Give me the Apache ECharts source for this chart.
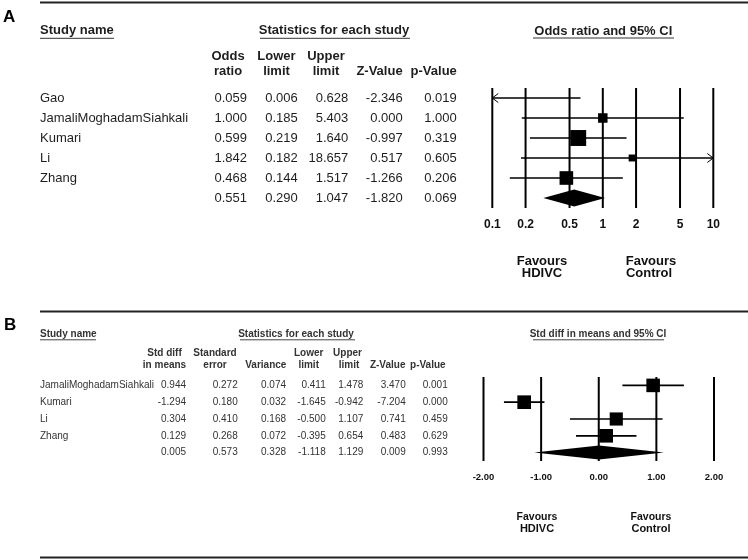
<!DOCTYPE html>
<html>
<head>
<meta charset="utf-8">
<script src="https://cdn.jsdelivr.net/npm/echarts@6/dist/echarts.min.js"></script>
<style>html,body{margin:0;padding:0;background:#fff}#c{width:748px;height:560px}</style>
</head>
<body>
<div id="c"></div>
<script>
// ---------- Panel A data (odds ratio) ----------
const studiesA = ['Gao', 'JamaliMoghadamSiahkali', 'Kumari', 'Li', 'Zhang'];
const orA = [0.059, 1.000, 0.599, 1.842, 0.468];
const lowerA = [0.006, 0.185, 0.219, 0.182, 0.144];
const upperA = [0.628, 5.403, 1.640, 18.657, 1.517];
const zA = [-2.346, 0.000, -0.997, 0.517, -1.266];
const pA = [0.019, 1.000, 0.319, 0.605, 0.206];
const weightA = [7.6, 14.4, 40.6, 7.7, 29.7];
const pooledA = [0.551, 0.290, 1.047, -1.820, 0.069];
const ticksA = [0.1, 0.2, 0.5, 1, 2, 5, 10];
const tickLabelsA = ['0.1', '0.2', '0.5', '1', '2', '5', '10'];

// ---------- Panel B data (std diff in means) ----------
const studiesB = ['JamaliMoghadamSiahkali', 'Kumari', 'Li', 'Zhang'];
const smdB = [0.944, -1.294, 0.304, 0.129];
const seB = [0.272, 0.180, 0.410, 0.268];
const varB = [0.074, 0.032, 0.168, 0.072];
const lowerB = [0.411, -1.645, -0.500, -0.395];
const upperB = [1.478, -0.942, 1.107, 0.654];
const zB = [3.470, -7.204, 0.741, 0.483];
const pB = [0.001, 0.000, 0.459, 0.629];
const weightB = [25.2, 25.6, 23.7, 25.3];
const pooledB = [0.005, 0.573, 0.328, -1.118, 1.129, 0.009, 0.993];
const ticksB = [-2, -1, 0, 1, 2];
const tickLabelsB = ['-2.00', '-1.00', '0.00', '1.00', '2.00'];

// ---------- styles ----------
const FF = '"Liberation Sans", Arial, sans-serif';
const colA = '#1e1e1e';
const colB = '#333';
const fmt = v => v.toFixed(3);

const chart = echarts.init(document.getElementById('c'), null, {renderer: 'canvas'});

function ciRender(xMin, xMax, sizeK, lw) {
  return function (params, api) {
    const est = api.value(0), row = api.value(1), lo = api.value(2), hi = api.value(3), w = api.value(4);
    const l = Math.max(lo, xMin), h = Math.min(hi, xMax);
    const p1 = api.coord([l, row]), p2 = api.coord([h, row]);
    const children = [{
      type: 'line', shape: {x1: p1[0], y1: p1[1], x2: p2[0], y2: p2[1]},
      style: {stroke: '#000', lineWidth: lw}
    }];
    if (lo < xMin) {
      children.push({type: 'polyline', shape: {points: [[p1[0] + 6, p1[1] - 4.5], [p1[0], p1[1]], [p1[0] + 6, p1[1] + 4.5]]},
        style: {stroke: '#000', lineWidth: 1, fill: null}});
    }
    if (hi > xMax) {
      children.push({type: 'polyline', shape: {points: [[p2[0] - 6, p2[1] - 4.5], [p2[0], p2[1]], [p2[0] - 6, p2[1] + 4.5]]},
        style: {stroke: '#000', lineWidth: 1, fill: null}});
    }
    if (est >= xMin && est <= xMax) {
      const c = api.coord([est, row]);
      const s = sizeK * Math.sqrt(w);
      children.push({type: 'rect', shape: {x: c[0] - s / 2, y: c[1] - s / 2, width: s, height: s}, style: {fill: '#000'}});
    }
    return {type: 'group', children};
  };
}

function diamondRender(halfH) {
  return function (params, api) {
    const est = api.value(0), row = api.value(1), lo = api.value(2), hi = api.value(3);
    const a = api.coord([lo, row]), b = api.coord([est, row]), c = api.coord([hi, row]);
    return {type: 'polygon', shape: {points: [[a[0], a[1]], [b[0], b[1] - halfH], [c[0], c[1]], [b[0], b[1] + halfH]]},
      style: {fill: '#000'}};
  };
}

function refRender(yTop, yBot, labels, labelDy, font, lw) {
  return function (params, api) {
    const t = api.value(0);
    const a = api.coord([t, yTop]), b = api.coord([t, yBot]);
    return {type: 'group', children: [
      {type: 'line', shape: {x1: a[0], y1: a[1], x2: b[0], y2: b[1]}, style: {stroke: '#000', lineWidth: lw}},
      {type: 'text', x: b[0], y: b[1] + labelDy, style: {text: labels[params.dataIndex], font, fill: '#111', align: 'center', verticalAlign: 'middle'}}
    ]};
  };
}

function tableRender(nameX, colXs, rowsText, font, fill) {
  return function (params, api) {
    const row = api.value(1);
    const y = api.coord([api.value(0), row])[1];
    const r = rowsText[params.dataIndex];
    const children = [];
    if (r.name) children.push({type: 'text', x: nameX, y, style: {text: r.name, font, fill, align: 'left', verticalAlign: 'middle'}});
    r.vals.forEach((v, j) => {
      children.push({type: 'text', x: colXs[j], y, style: {text: v, font, fill, align: 'right', verticalAlign: 'middle'}});
    });
    return {type: 'group', children};
  };
}

const rowsA = studiesA.map((n, i) => ({name: n, vals: [orA[i], lowerA[i], upperA[i], zA[i], pA[i]].map(fmt)}));
rowsA.push({name: '', vals: pooledA.map(fmt)});
const rowsB = studiesB.map((n, i) => ({name: n, vals: [smdB[i], seB[i], varB[i], lowerB[i], upperB[i], zB[i], pB[i]].map(fmt)}));
rowsB.push({name: '', vals: pooledB.map(fmt)});

function txt(x, y, text, font, fill, align) {
  return {type: 'text', x, y, silent: true, style: {text, font, fill: fill || colA, align: align || 'center', verticalAlign: 'middle'}};
}
function hline(x1, x2, y, lw, color) {
  return {type: 'line', silent: true, shape: {x1, y1: y, x2, y2: y}, style: {stroke: color || '#222', lineWidth: lw}};
}

const hA = 'bold 13px ' + FF;
const hB = 'bold 10px ' + FF;
const graphics = [
  // rules
  hline(40, 748, 2.5, 2, '#222'),
  hline(40, 748, 311.5, 2, '#222'),
  hline(40, 748, 557.5, 2, '#222'),
  // panel letters
  txt(3, 17.5, 'A', 'bold 17px ' + FF, '#000', 'left'),
  txt(4, 325, 'B', 'bold 17px ' + FF, '#000', 'left'),
  // panel A headers
  txt(40, 30.7, 'Study name', hA, colA, 'left'), hline(40, 114, 38.3, 1, '#333'),
  txt(334, 30.7, 'Statistics for each study', hA), hline(260, 410, 38.3, 1, '#333'),
  txt(603.3, 31.2, 'Odds ratio and 95% CI', hA), hline(533, 674, 38, 1, '#333'),
  txt(228, 56.7, 'Odds', hA), txt(228, 71.7, 'ratio', hA),
  txt(276.5, 56.7, 'Lower', hA), txt(276.5, 71.7, 'limit', hA),
  txt(326, 56.7, 'Upper', hA), txt(326, 71.7, 'limit', hA),
  txt(379.5, 71.7, 'Z-Value', hA), txt(433.7, 71.7, 'p-Value', hA),
  txt(542, 261.7, 'Favours', hA, '#111'), txt(542, 273.5, 'HDIVC', hA, '#111'),
  txt(651, 261.7, 'Favours', hA, '#111'), txt(649, 273.5, 'Control', hA, '#111'),
  // panel B headers
  txt(40, 334, 'Study name', hB, colB, 'left'), hline(40, 96, 339.8, 1, '#444'),
  txt(296, 334, 'Statistics for each study', hB, colB), hline(240, 355, 339.8, 1, '#444'),
  txt(598, 334, 'Std diff in means and 95% CI', hB, colB), hline(533, 664, 339.8, 1, '#444'),
  txt(164.5, 353.3, 'Std diff', hB, colB), txt(164.5, 365.3, 'in means', hB, colB),
  txt(215, 353.3, 'Standard', hB, colB), txt(215, 365.3, 'error', hB, colB),
  txt(265.8, 365.3, 'Variance', hB, colB),
  txt(308.7, 353.3, 'Lower', hB, colB), txt(308.7, 365.3, 'limit', hB, colB),
  txt(347.5, 353.3, 'Upper', hB, colB), txt(349, 365.3, 'limit', hB, colB),
  txt(387.7, 365.3, 'Z-Value', hB, colB), txt(427.8, 365.3, 'p-Value', hB, colB),
  txt(537, 517.3, 'Favours', 'bold 10.5px ' + FF, '#111'), txt(537, 528.7, 'HDIVC', 'bold 11px ' + FF, '#111'),
  txt(651, 517.3, 'Favours', 'bold 10.5px ' + FF, '#111'), txt(651, 528.7, 'Control', 'bold 11px ' + FF, '#111')
];

const option = {
  animation: false,
  backgroundColor: '#fff',
  grid: [
    {left: 492.3, top: 88, width: 221, height: 120},
    {left: 483.5, top: 377, width: 230.5, height: 84}
  ],
  xAxis: [
    {type: 'log', logBase: 10, min: 0.1, max: 10, gridIndex: 0, show: false},
    {type: 'value', min: -2, max: 2, gridIndex: 1, show: false}
  ],
  yAxis: [
    {type: 'value', min: -0.5, max: 5.5, inverse: true, gridIndex: 0, show: false},
    {type: 'value', min: -0.5, max: 4.5, inverse: true, gridIndex: 1, show: false}
  ],
  graphic: graphics,
  series: [
    {type: 'custom', name: 'refA', xAxisIndex: 0, yAxisIndex: 0, silent: true,
      data: ticksA.map((t, i) => [t, 0]),
      renderItem: refRender(-0.5, 5.5, tickLabelsA, 17, 'bold 12px ' + FF, 2)},
    {type: 'custom', name: 'studiesA', xAxisIndex: 0, yAxisIndex: 0, silent: true,
      data: studiesA.map((n, i) => [orA[i], i, lowerA[i], upperA[i], weightA[i]]),
      renderItem: ciRender(0.1, 10, 2.5, 1.5)},
    {type: 'custom', name: 'pooledA', xAxisIndex: 0, yAxisIndex: 0, silent: true,
      data: [[pooledA[0], studiesA.length, pooledA[1], pooledA[2]]],
      renderItem: diamondRender(8.5)},
    {type: 'custom', name: 'tableA', xAxisIndex: 0, yAxisIndex: 0, silent: true,
      data: rowsA.map((r, i) => [1, i]),
      renderItem: tableRender(40, [247, 297.7, 348.3, 402.7, 456.7], rowsA, '13px ' + FF, colA)},

    {type: 'custom', name: 'refB', xAxisIndex: 1, yAxisIndex: 1, silent: true,
      data: ticksB.map((t, i) => [t, 0]),
      renderItem: refRender(-0.5, 4.5, tickLabelsB, 16.5, 'bold 9.5px ' + FF, 2)},
    {type: 'custom', name: 'studiesB', xAxisIndex: 1, yAxisIndex: 1, silent: true,
      data: studiesB.map((n, i) => [smdB[i], i, lowerB[i], upperB[i], weightB[i]]),
      renderItem: ciRender(-2, 2, 2.7, 1.7)},
    {type: 'custom', name: 'pooledB', xAxisIndex: 1, yAxisIndex: 1, silent: true,
      data: [[pooledB[0], studiesB.length, pooledB[3], pooledB[4]]],
      renderItem: diamondRender(7)},
    {type: 'custom', name: 'tableB', xAxisIndex: 1, yAxisIndex: 1, silent: true,
      data: rowsB.map((r, i) => [0, i]),
      renderItem: tableRender(40, [186, 237.7, 286, 325.7, 363.3, 405.7, 447.7], rowsB, '10px ' + FF, colB)}
  ]
};
chart.setOption(option);
</script>
</body>
</html>
